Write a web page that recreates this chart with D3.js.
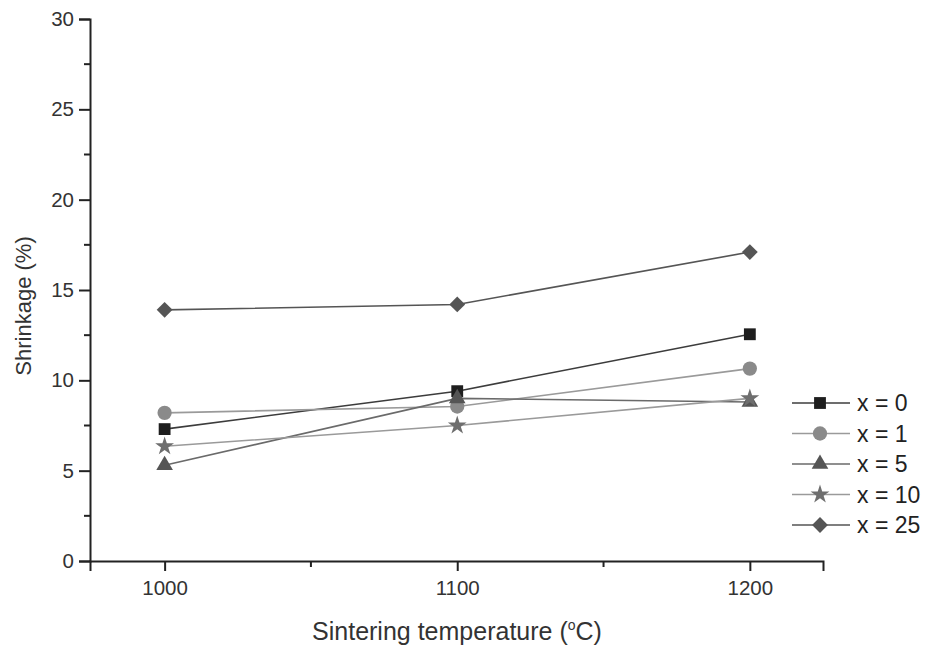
<!DOCTYPE html>
<html>
<head>
<meta charset="utf-8">
<script src="https://cdn.jsdelivr.net/npm/d3@7"></script>
<style>
  body { margin: 0; background: #fff; }
  svg text { font-family: "Liberation Sans", Arial, sans-serif; fill: #333; }
</style>
</head>
<body>
<svg width="930" height="647"></svg>
<script>
// data
var temps = [1000, 1100, 1200];
var seriesNames = ["x = 0", "x = 1", "x = 5", "x = 10", "x = 25"];
var shrinkX0 = [7.3, 9.4, 12.55];
var shrinkX1 = [8.2, 8.55, 10.65];
var shrinkX5 = [5.3, 9.0, 8.8];
var shrinkX10 = [6.35, 7.5, 9.0];
var shrinkX25 = [13.9, 14.2, 17.1];
var yTicks = [0, 5, 10, 15, 20, 25, 30];

var svg = d3.select("svg");

var x = d3.scaleLinear().domain([974.5, 1225]).range([90, 823]);
var y = d3.scaleLinear().domain([0, 30]).range([561, 19]);

// diamond = square turned 45deg
var series = [
  { name: seriesNames[0], values: shrinkX0, sym: d3.symbolSquare, size: 140, rot: 0, fill: "#1e1e1e", line: "#3c3c3c" },
  { name: seriesNames[1], values: shrinkX1, sym: d3.symbolCircle, size: 160, rot: 0, fill: "#8a8a8a", line: "#9a9a9a" },
  { name: seriesNames[2], values: shrinkX5, sym: d3.symbolTriangle, size: 120, rot: 0, fill: "#555", line: "#6a6a6a" },
  { name: seriesNames[3], values: shrinkX10, sym: d3.symbolStar, size: 110, rot: 0, fill: "#6e6e6e", line: "#9a9a9a" },
  { name: seriesNames[4], values: shrinkX25, sym: d3.symbolSquare, size: 125, rot: 45, fill: "#555", line: "#555" }
];

// axes
var g = svg.append("g");

var yAxis = d3.axisLeft(y).tickValues(yTicks).tickSize(11).tickPadding(5).tickFormat(d3.format("d"));
var ya = g.append("g").attr("transform", "translate(90,0)").call(yAxis);
ya.select(".domain").attr("stroke", "#222").attr("stroke-width", 2);
ya.selectAll(".tick line").attr("stroke", "#222").attr("stroke-width", 2);
ya.selectAll("text").style("font-size", "20.5px");

// minor y ticks
g.append("g").selectAll("line")
  .data(d3.range(2.5, 30, 5))
  .enter().append("line")
  .attr("x1", 84).attr("x2", 90)
  .attr("y1", function(d) { return y(d); }).attr("y2", function(d) { return y(d); })
  .attr("stroke", "#222").attr("stroke-width", 2);

var xAxis = d3.axisBottom(x).tickValues(temps).tickSize(10).tickPadding(9).tickFormat(d3.format("d"));
var xa = g.append("g").attr("transform", "translate(0,561)").call(xAxis);
xa.select(".domain").attr("stroke", "#222").attr("stroke-width", 2);
xa.selectAll(".tick line").attr("stroke", "#222").attr("stroke-width", 2);
xa.selectAll("text").style("font-size", "20.5px");

// minor x ticks
g.append("g").selectAll("line")
  .data([1050, 1150])
  .enter().append("line")
  .attr("y1", 561).attr("y2", 567)
  .attr("x1", function(d) { return x(d); }).attr("x2", function(d) { return x(d); })
  .attr("stroke", "#222").attr("stroke-width", 2);

// axis titles
svg.append("text")
  .attr("transform", "translate(31,306) rotate(-90)")
  .attr("text-anchor", "middle")
  .style("font-size", "22px")
  .text("Shrinkage (%)");

var xt = svg.append("text")
  .attr("x", 457).attr("y", 640)
  .attr("text-anchor", "middle")
  .style("font-size", "25px");
xt.append("tspan").text("Sintering temperature (");
xt.append("tspan").attr("dy", -10).style("font-size", "14px").text("o");
xt.append("tspan").attr("dy", 10).text("C)");

// lines
var line = d3.line()
  .x(function(d, i) { return x(temps[i]); })
  .y(function(d) { return y(d); });

svg.append("g").selectAll("path")
  .data(series)
  .enter().append("path")
  .attr("d", function(s) { return line(s.values); })
  .attr("fill", "none")
  .attr("stroke", function(s) { return s.line; })
  .attr("stroke-width", 1.6);

// markers
series.forEach(function(s) {
  svg.append("g").selectAll("path")
    .data(s.values)
    .enter().append("path")
    .attr("transform", function(d, i) { return "translate(" + x(temps[i]) + "," + y(d) + ") rotate(" + s.rot + ")"; })
    .attr("d", d3.symbol().type(s.sym).size(s.size))
    .attr("fill", s.fill);
});

// legend
var leg = svg.append("g").selectAll("g")
  .data(series)
  .enter().append("g")
  .attr("transform", function(d, i) { return "translate(0," + (403 + i * 30.5) + ")"; });

leg.append("line")
  .attr("x1", 792).attr("x2", 850)
  .attr("stroke", function(s) { return s.line; })
  .attr("stroke-width", 1.6);
leg.append("path")
  .attr("transform", function(s) { return "translate(820,0) rotate(" + s.rot + ")"; })
  .attr("d", function(s) { return d3.symbol().type(s.sym).size(s.size)(); })
  .attr("fill", function(s) { return s.fill; });
leg.append("text")
  .attr("x", 857).attr("y", 8)
  .style("font-size", "23px")
  .style("fill", "#222")
  .text(function(s) { return s.name; });
</script>
</body>
</html>
